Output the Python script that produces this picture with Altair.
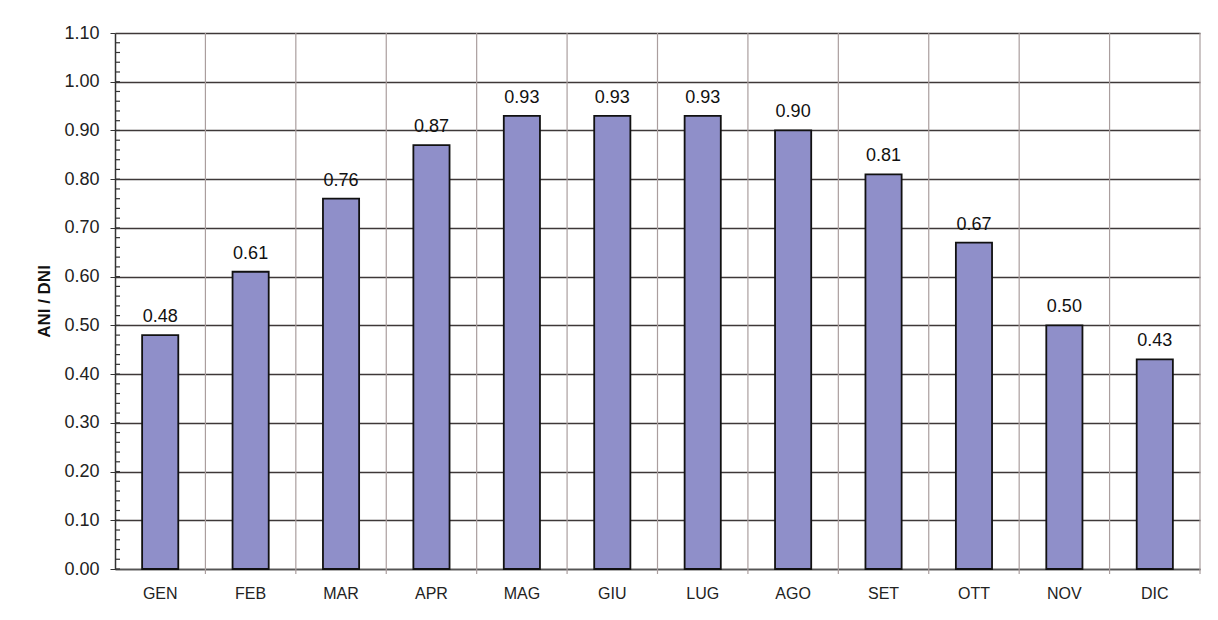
import altair as alt
import pandas as pd

months = ["GEN", "FEB", "MAR", "APR", "MAG", "GIU", "LUG", "AGO", "SET", "OTT", "NOV", "DIC"]
values = [0.48, 0.61, 0.76, 0.87, 0.93, 0.93, 0.93, 0.90, 0.81, 0.67, 0.50, 0.43]

df = pd.DataFrame({"mese": months, "valore": values})

W, H = 1085, 536
FONT = "Liberation Sans"

xscale = alt.Scale(domain=months, paddingInner=0.6, paddingOuter=0.3)
gscale = alt.Scale(domain=months, paddingInner=0, paddingOuter=0)
yscale = alt.Scale(domain=[0, 1.1], nice=False)

base = alt.Chart(df)

vgrid = base.mark_rule(color="#aa9e9e", strokeWidth=1.2).encode(
    x=alt.X("mese:N", scale=gscale, bandPosition=1, axis=None),
    y=alt.value(0),
    y2=alt.value(H + 5),
)

bars = base.mark_bar(color="#8f8fc9", stroke="#111111", strokeWidth=1.8).encode(
    x=alt.X(
        "mese:N",
        scale=xscale,
        sort=months,
        axis=alt.Axis(
            title=None,
            labelAngle=0,
            ticks=False,
            domain=True,
            domainColor="#555555",
            domainWidth=1.5,
            labelFont=FONT,
            labelFontSize=16,
            labelColor="#222222",
            labelPadding=16,
        ),
    ),
    y=alt.Y(
        "valore:Q",
        scale=yscale,
        axis=alt.Axis(
            title="ANI / DNI",
            values=[round(i * 0.1, 2) for i in range(12)],
            format=".2f",
            grid=True,
            gridColor="#3e3838",
            gridWidth=1.6,
            gridOpacity=1,
            domain=True,
            domainColor="#333333",
            domainWidth=1.5,
            tickSize=5,
            tickColor="#333333",
            labelFont=FONT,
            labelFontSize=18,
            labelColor="#222222",
            labelPadding=11,
            titleFont=FONT,
            titleFontSize=17,
            titleFontWeight="bold",
            titleColor="#111111",
            titlePadding=10,
        ),
    ),
)

labels = base.mark_text(
    dy=-9, baseline="bottom", font=FONT, fontSize=18, color="#111111"
).encode(
    x=alt.X("mese:N", scale=xscale),
    y=alt.Y("valore:Q", scale=yscale),
    text=alt.Text("valore:Q", format=".2f"),
)

minor = (
    alt.Chart(alt.sequence(start=0, stop=1.1, step=0.02, as_="t"))
    .mark_rule(color="#333333", strokeWidth=1.2)
    .encode(
        y=alt.Y("t:Q", scale=yscale),
        x=alt.value(0),
        x2=alt.value(5),
    )
)

chart = (
    alt.layer(vgrid, bars + labels + minor)
    .resolve_scale(x="independent")
    .properties(
        width=W,
        height=H,
        autosize=alt.AutoSizeParams(type="none"),
        padding={"left": 107, "top": 25, "right": 10, "bottom": 40},
        background="#ffffff",
    )
    .configure_view(stroke=None)
)

chart.save("out.html", embed_options={"renderer": "svg", "actions": False})
